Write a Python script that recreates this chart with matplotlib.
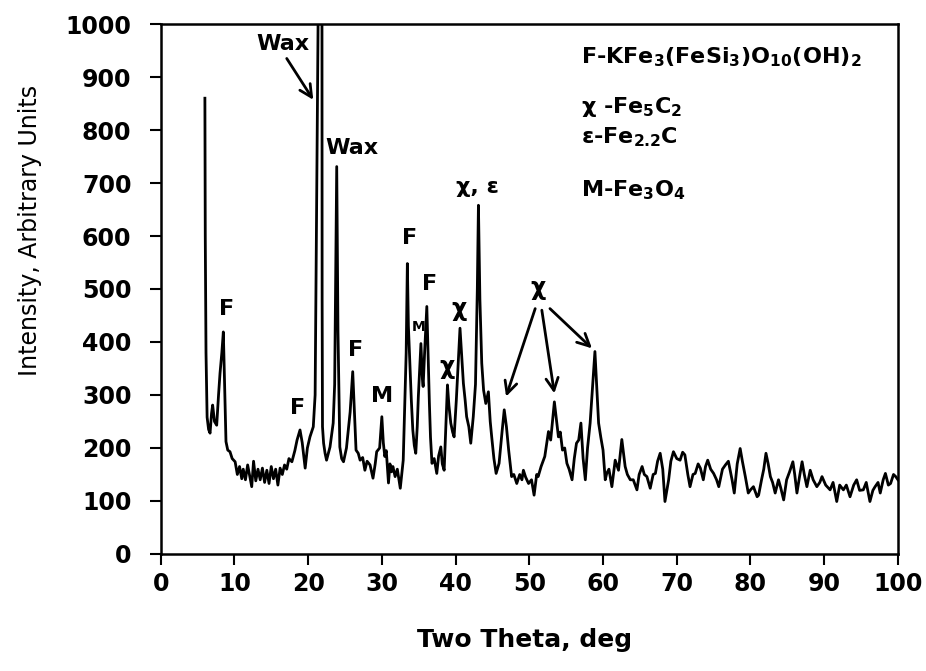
import matplotlib
matplotlib.use("Agg")
import matplotlib.pyplot as plt

plt.rcParams["font.family"] = ["DejaVu Sans"]
plt.rcParams["mathtext.fontset"] = "dejavusans"
plt.rcParams["mathtext.default"] = "bf"

# ---- data ----
two_theta = [
    6.0, 6.05, 6.15, 6.3, 6.5, 6.7, 6.9, 7.05, 7.3, 7.6, 7.85, 8.05, 8.3, 8.5, 8.7, 8.86,
    9.1, 9.4, 9.7, 10.1, 10.4, 10.7, 11.0, 11.2, 11.5, 11.8, 12.1, 12.35, 12.6, 12.9,
    13.2, 13.5, 13.8, 14.1, 14.4, 14.7, 15.0, 15.3, 15.6, 15.9, 16.2, 16.5, 16.8, 17.1,
    17.4, 17.8, 18.2, 18.5, 18.9, 19.2, 19.6, 19.9, 20.25, 20.7, 20.95, 21.05, 21.35,
    21.6, 21.88, 21.9, 21.95, 22.1, 22.3, 22.5, 22.97, 23.4, 23.6, 23.88, 24.05, 24.3,
    24.55, 24.8, 25.2, 25.5, 25.7, 26.05, 26.3, 26.5, 26.8, 27.05, 27.4, 27.7, 28.0,
    28.4, 28.8, 29.1, 29.3, 29.7, 30.0, 30.2, 30.4, 30.6, 30.9, 31.1, 31.3, 31.5, 31.8,
    32.1, 32.5, 32.9, 33.15, 33.3, 33.46, 33.6, 33.8, 34.0, 34.2, 34.4, 34.6, 34.8,
    34.95, 35.3, 35.5, 35.6, 35.8, 36.1, 36.3, 36.45, 36.6, 36.8, 37.1, 37.45, 37.7,
    38.0, 38.2, 38.45, 38.7, 38.9, 39.1, 39.35, 39.6, 39.8, 40.1, 40.35, 40.6, 40.85,
    41.06, 41.3, 41.5, 41.8, 42.06, 42.4, 42.7, 42.95, 43.1, 43.3, 43.55, 43.8, 44.1,
    44.45, 44.7, 44.9, 45.2, 45.5, 45.9, 46.3, 46.6, 46.9, 47.2, 47.6, 47.9, 48.3, 48.7,
    49.0, 49.2, 49.5, 49.9, 50.3, 50.65, 51.0, 51.2, 51.6, 52.1, 52.6, 52.9, 53.4, 53.7,
    53.95, 54.2, 54.5, 54.8, 55.1, 55.4, 55.8, 56.1, 56.4, 56.7, 57.0, 57.3, 57.6, 57.9,
    58.25, 58.6, 58.9, 59.2, 59.4, 59.7, 60.0, 60.3, 60.5, 60.8, 61.2, 61.65, 62.1,
    62.55, 63.0, 63.3, 63.7, 64.1, 64.6, 64.9, 65.3, 65.6, 65.95, 66.4, 66.8, 67.1,
    67.4, 67.75, 68.1, 68.4, 68.9, 69.2, 69.55, 70.0, 70.45, 70.8, 71.1, 71.5, 71.8,
    72.2, 72.5, 72.9, 73.2, 73.6, 73.9, 74.2, 74.6, 75.0, 75.4, 75.7, 76.2, 76.6, 77.0,
    77.25, 77.5, 77.8, 78.2, 78.6, 78.9, 79.3, 79.7, 80.0, 80.4, 80.9, 81.1, 81.5, 81.8,
    82.1, 82.4, 82.7, 83.0, 83.35, 83.8, 84.1, 84.5, 84.9, 85.3, 85.75, 86.0, 86.3,
    86.7, 87.0, 87.3, 87.65, 88.1, 88.5, 89.0, 89.4, 89.7, 90.2, 90.8, 91.2, 91.7,
    92.1, 92.6, 93.0, 93.5, 94.0, 94.4, 94.8, 95.3, 95.7, 96.2, 96.6, 96.9, 97.3, 97.6,
    98.0, 98.3, 98.7, 99.0, 99.4, 99.7, 100.0,
]
intensity = [
    860, 600, 380, 258, 235, 228, 265, 281, 250, 243, 300, 341, 380, 419, 300, 212,
    196, 193, 180, 174, 150, 165, 142, 160, 140, 168, 145, 127, 175, 138,
    160, 140, 162, 135, 158, 133, 165, 142, 160, 130, 162, 150, 168, 160,
    180, 174, 195, 215, 234, 210, 162, 200, 221, 240, 300, 479, 1000,
    1150, 1000, 479, 240, 209, 190, 177, 202, 247, 320, 731, 420, 202,
    180, 174, 200, 240, 268, 344, 260, 196, 190, 177, 182, 158, 175,
    168, 143, 170, 193, 200, 259, 210, 184, 195, 134, 170, 155, 165, 146,
    160, 124, 177, 300, 379, 548, 430, 360, 290, 234, 205, 190, 240,
    297, 397, 330, 316, 380, 467, 360, 284, 220, 171, 180, 152, 185,
    202, 170, 158, 250, 319, 280, 247, 230, 221, 290, 360, 426, 370,
    322, 290, 259, 240, 209, 259, 320, 500, 658, 480, 360, 309, 284,
    306, 250, 221, 180, 152, 171, 230, 272, 240, 196, 146, 150, 133, 150,
    140, 158, 145, 133, 140, 111, 150, 146, 165, 184, 231, 215, 287, 250,
    221, 230, 196, 200, 171, 160, 140, 180, 209, 215, 247, 180, 140, 200,
    247, 320, 382, 300, 247, 220, 196, 140, 152, 160, 127, 177, 158,
    216, 165, 150, 140, 140, 121, 150, 165, 150, 146, 124, 150, 152,
    175, 190, 160, 99, 140, 175, 193, 180, 177, 192, 187, 150, 127,
    150, 152, 170, 162, 140, 165, 177, 160, 152, 140, 127, 160, 168, 175,
    158, 140, 115, 170, 199, 175, 146, 115, 121, 127, 108, 111, 140, 160,
    190, 170, 146, 135, 115, 140, 125, 102, 140, 155, 174, 150, 115,
    150, 174, 150, 127, 158, 140, 127, 135, 146, 130, 121, 135, 99,
    130, 121, 130, 108, 130, 140, 120, 121, 135, 99, 120, 127, 135, 115,
    140, 152, 130, 133, 150, 146, 140,
]

x_ticks = list(range(0, 101, 10))
y_ticks = list(range(0, 1001, 100))

peak_labels = ["Wax", "Wax", "F", "F", "F", "M", "F", "M", "F", "χ", "χ", "χ, ε", "χ"]
peak_label_x = [16.6, 25.96, 9.0, 18.6, 26.4, 30.07, 33.7, 34.95, 36.5, 38.85, 40.4, 42.96, 51.2]
peak_label_y = [963, 766, 463, 275, 384, 299, 596, 428, 509, 353, 462, 692, 501]
peak_label_size = [16, 16, 16, 16, 16, 16, 16, 10, 16, 17, 17, 16, 17]

arrow_start_x = [17.1, 50.8, 51.7, 52.8]
arrow_start_y = [935, 463, 460, 463]
arrow_end_x = [20.7, 46.85, 53.4, 58.5]
arrow_end_y = [857, 297, 303, 388]

phase_legend = [
    r"F-KFe$_3$(FeSi$_3$)O$_{10}$(OH)$_2$",
    r"χ -Fe$_5$C$_2$",
    r"ε-Fe$_{2.2}$C",
    r"M-Fe$_3$O$_4$",
]
phase_legend_y = [926, 832, 775, 674]

# ---- figure ----
fig = plt.figure(figsize=(9.26, 6.71), dpi=100)
ax = fig.add_axes([0.1735, 0.1744, 0.7962, 0.7898])

ax.plot(two_theta, intensity, color="black", lw=2.0)
ax.set_xlim(0, 100)
ax.set_ylim(0, 1000)
ax.set_xticks(x_ticks)
ax.set_yticks(y_ticks)
ax.tick_params(axis="both", direction="out", length=8, width=1.5, labelsize=17)
ax.tick_params(axis="y", pad=13)
ax.tick_params(axis="x", pad=5)
for lab in ax.get_xticklabels() + ax.get_yticklabels():
    lab.set_fontweight("bold")
for sp in ax.spines.values():
    sp.set_linewidth(1.8)

ax.set_xlabel("Two Theta, deg", fontsize=18, fontweight="bold", va="center", ha="center")
ax.xaxis.set_label_coords(0.494, -0.162)
ax.set_ylabel("Intensity, Arbitrary Units", fontsize=17, va="center", ha="center")
ax.yaxis.set_label_coords(-0.177, 0.61)

for t, x, y, s in zip(peak_labels, peak_label_x, peak_label_y, peak_label_size):
    ax.text(x, y, t, fontsize=s, fontweight="bold", ha="center", va="center")

for x0, y0, x1, y1 in zip(arrow_start_x, arrow_start_y, arrow_end_x, arrow_end_y):
    ax.annotate("", xy=(x1, y1), xytext=(x0, y0),
                arrowprops=dict(arrowstyle="->", lw=2, color="black", mutation_scale=22,
                                shrinkA=0, shrinkB=0))

for t, y in zip(phase_legend, phase_legend_y):
    ax.text(57.0, y, t, fontsize=16, fontweight="bold", ha="left", va="baseline")

fig.savefig("out.png", dpi=100)
